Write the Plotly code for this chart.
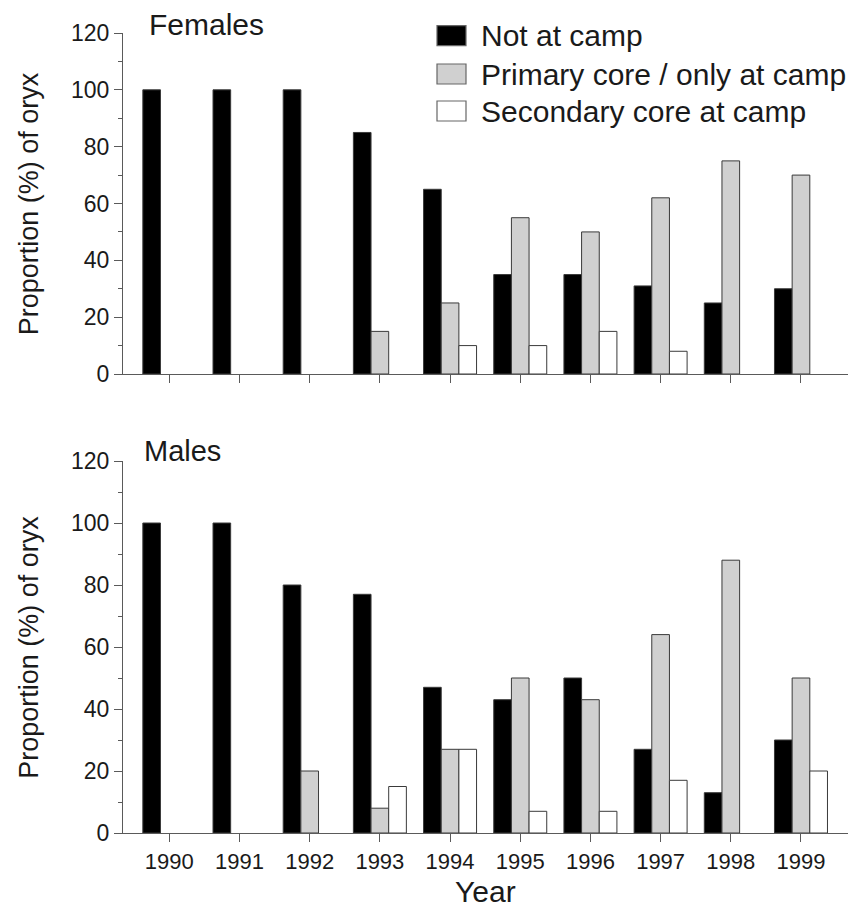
import plotly.graph_objects as go

# Survey years
years = [1990, 1991, 1992, 1993, 1994, 1995, 1996, 1997, 1998, 1999]

# Series names
series_names = ["Not at camp", "Primary core / only at camp", "Secondary core at camp"]

# Females: proportion (%) of oryx per category
female_not_at_camp = [100, 100, 100, 85, 65, 35, 35, 31, 25, 30]
female_primary = [0, 0, 0, 15, 25, 55, 50, 62, 75, 70]
female_secondary = [0, 0, 0, 0, 10, 10, 15, 8, 0, 0]

# Males: proportion (%) of oryx per category
male_not_at_camp = [100, 100, 80, 77, 47, 43, 50, 27, 13, 30]
male_primary = [0, 0, 20, 8, 27, 50, 43, 64, 88, 50]
male_secondary = [0, 0, 0, 15, 27, 7, 7, 17, 0, 20]

fills = ["#000000", "#d0d0d0", "#ffffff"]
outline = "#3a3a3a"
axis_col = "#5a5a5a"
FONT = "Liberation Sans, Arial, sans-serif"
TXT = "#1a1a1a"

fig = go.Figure()

panels = [
    ("x", "y", [female_not_at_camp, female_primary, female_secondary]),
    ("x2", "y2", [male_not_at_camp, male_primary, male_secondary]),
]
for xa, ya, vals in panels:
    for name, v, c in zip(series_names, vals, fills):
        # empty categories are left blank rather than drawn as a flat outline
        fig.add_trace(go.Bar(
            x=years, y=[val if val else None for val in v], name=name,
            xaxis=xa, yaxis=ya,
            marker=dict(color=c, line=dict(color=outline, width=1)),
            showlegend=False,
        ))

common_y = dict(
    range=[0, 120], tickvals=[0, 20, 40, 60, 80, 100, 120],
    ticks="outside", ticklen=8, tickwidth=1, tickcolor=axis_col,
    showline=True, linecolor=axis_col, linewidth=1.2,
    showgrid=False, zeroline=False,
    tickfont=dict(family=FONT, size=23, color=TXT),
    minor=dict(dtick=10, ticks="outside", ticklen=4, tickcolor=axis_col, showgrid=False),
)
common_x = dict(
    range=[1989.34, 1999.67], tickvals=years,
    ticks="outside", ticklen=8, tickwidth=1, tickcolor=axis_col,
    showline=True, linecolor=axis_col, linewidth=1.2,
    showgrid=False, zeroline=False,
    tickfont=dict(family=FONT, size=22, color=TXT),
)

fig.update_layout(
    width=852, height=910,
    margin=dict(l=123, r=4, t=33, b=77),
    paper_bgcolor="white", plot_bgcolor="white",
    barmode="group", bargap=0.245, bargroupgap=0,
    showlegend=False,
    font=dict(family=FONT, color=TXT),
    xaxis=dict(common_x, domain=[0, 1], anchor="y", showticklabels=False),
    yaxis=dict(common_y, domain=[0.57375, 1.0], anchor="x"),
    xaxis2=dict(common_x, domain=[0, 1], anchor="y2"),
    yaxis2=dict(common_y, domain=[0.0, 0.465], anchor="x2"),
)

annotations = [
    dict(text="Females", x=0.0331, y=1.011, xref="paper", yref="paper",
         xanchor="left", yanchor="middle", showarrow=False,
         font=dict(family=FONT, size=30, color=TXT)),
    dict(text="Males", x=0.0262, y=0.4775, xref="paper", yref="paper",
         xanchor="left", yanchor="middle", showarrow=False,
         font=dict(family=FONT, size=29, color=TXT)),
    dict(text="Proportion (%) of oryx", x=-0.13, y=(0.57375 + 1.0) / 2,
         xref="paper", yref="paper", xanchor="center", yanchor="middle",
         textangle=-90, showarrow=False,
         font=dict(family=FONT, size=27, color=TXT)),
    dict(text="Proportion (%) of oryx", x=-0.13, y=0.465 / 2,
         xref="paper", yref="paper", xanchor="center", yanchor="middle",
         textangle=-90, showarrow=False,
         font=dict(family=FONT, size=27, color=TXT)),
    dict(text="Year", x=0.5, y=-0.0735, xref="paper", yref="paper",
         xanchor="center", yanchor="middle", showarrow=False,
         font=dict(family=FONT, size=30, color=TXT)),
]

# Legend drawn as swatches plus labels in the upper panel
shapes = []
row_y = [0.99663, 0.94875, 0.9025]
for name, c, yc in zip(series_names, fills, row_y):
    shapes.append(dict(type="rect", xref="paper", yref="paper",
                       x0=0.4331, x1=0.4731, y0=yc - 0.0125, y1=yc + 0.0125,
                       fillcolor=c, line=dict(color="#666666", width=1.2)))
    annotations.append(dict(text=name, x=0.491, y=yc, xref="paper", yref="paper",
                            xanchor="left", yanchor="middle", showarrow=False,
                            font=dict(family=FONT, size=30, color=TXT)))

fig.update_layout(annotations=annotations, shapes=shapes)

fig.write_html("out.html")
